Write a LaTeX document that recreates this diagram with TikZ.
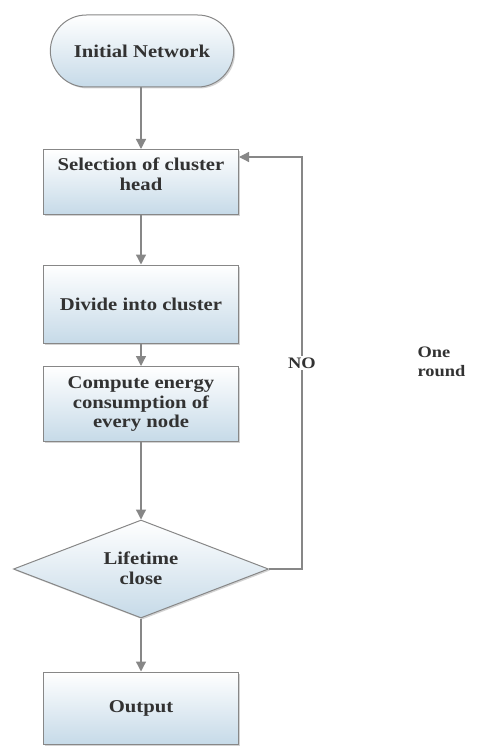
\documentclass[tikz,border=0pt]{standalone}
\usepackage{fontspec}
\setmainfont{Liberation Serif}[FakeStretch=1.15]
\usetikzlibrary{shapes.geometric,shapes.misc,arrows.meta,shadows}
\definecolor{boxbot}{RGB}{198,218,232}
\definecolor{edge}{RGB}{135,135,135}
\definecolor{txt}{RGB}{50,50,50}
\begin{document}
\begin{tikzpicture}[x=1pt,y=-1pt,
  base/.style={draw=edge,line width=1pt,top color=white,bottom color=boxbot,
     text=txt,font=\bfseries\fontsize{18}{19.5}\selectfont,align=center,
     drop shadow={shadow xshift=1.5pt,shadow yshift=-1.5pt,opacity=0.35}},
  procbox/.style={base,rectangle,minimum width=195pt,minimum height=70pt,inner sep=1pt},
  termbox/.style={base,rounded rectangle,minimum width=190pt,minimum height=72pt},
  decbox/.style={base,diamond,minimum width=255pt,minimum height=98pt,aspect=2.6,inner sep=0pt},
  flow/.style={draw=edge,line width=1.3pt,-{Triangle[length=10pt,width=10pt]}},
  lbl/.style={text=txt,font=\bfseries\fontsize{16}{19}\selectfont}]
\useasboundingbox (0,0) rectangle (482,746);
\node[termbox] (init) at (142,51) {Initial Network};
\node[procbox,minimum height=65pt] (sel) at (141,182) {Selection of cluster\\head\vphantom{g}\\[-4pt]};
\node[procbox,minimum height=78pt] (div) at (141,304) {Divide into cluster};
\node[procbox,minimum height=75pt] (comp) at (141,404) {Compute energy\\consumption of\\every node};
\node[decbox] (dec) at (141,569) {};
\node[text=txt,font=\bfseries\fontsize{18}{19.5}\selectfont,align=center] (declbl) at (141,568) {Lifetime\\close};
\node[procbox,minimum height=72pt] (out) at (141,708) {Output};
\coordinate (c1) at (302,569);
\coordinate (c2) at (302,157);
\draw[flow] (init.south -| sel.north) -- (sel.north);
\draw[flow] (sel) -- (div);
\draw[flow] (div) -- (comp);
\draw[flow] (comp.south) -- (dec.north);
\draw[flow] (dec.south) -- (out.north);
\draw[flow] (dec.east) -- (c1) -- (c2) -- (c2 -| sel.east);
\node[lbl,fill=white,inner sep=2pt] (no) at (302,363) {NO};
\node[lbl,align=left,anchor=west] (round) at (414,362) {One\\round};
\end{tikzpicture}
\end{document}
